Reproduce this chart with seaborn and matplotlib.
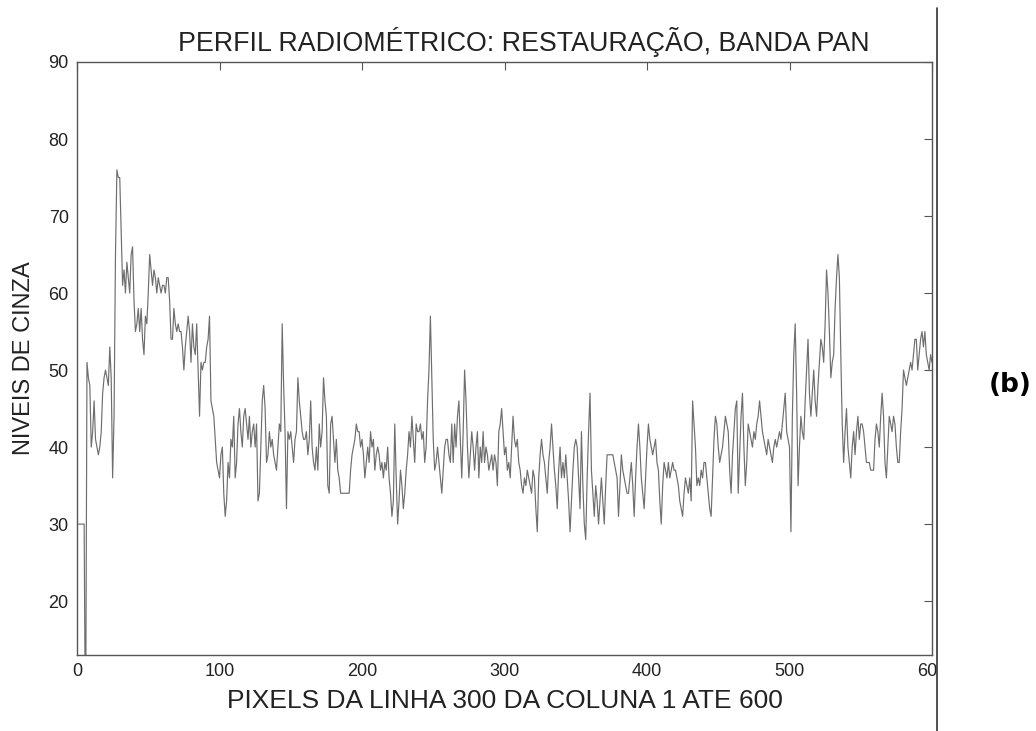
""" Perfil radiometrico - restauracao, banda PAN """

import numpy as np
import matplotlib
matplotlib.use("Agg")
import matplotlib.pyplot as plt
from matplotlib.lines import Line2D
from matplotlib.patches import Rectangle
import seaborn as sns

# Niveis de cinza, pixels 1..600 da linha 300
nivel = [
    30, 30, 30, 30, 30, 0, 51, 49, 48, 40,
    42, 46, 41, 40, 39, 40, 42, 47, 49, 50,
    49, 48, 53, 49, 36, 44, 65, 76, 75, 75,
    68, 61, 63, 60, 64, 62, 60, 65, 66, 59,
    55, 56, 58, 55, 58, 54, 52, 57, 56, 60,
    65, 63, 61, 63, 62, 60, 62, 61, 60, 61,
    61, 60, 62, 62, 59, 54, 54, 58, 56, 55,
    56, 55, 55, 53, 50, 53, 55, 57, 55, 51,
    56, 53, 52, 56, 50, 44, 51, 50, 51, 51,
    53, 54, 57, 46, 45, 44, 41, 38, 37, 36,
    39, 40, 34, 31, 33, 38, 36, 41, 40, 44,
    36, 38, 43, 45, 42, 40, 44, 45, 43, 41,
    44, 40, 42, 43, 40, 43, 33, 34, 40, 46,
    48, 45, 38, 39, 42, 40, 41, 39, 38, 37,
    40, 43, 42, 56, 48, 42, 32, 42, 41, 42,
    40, 38, 41, 42, 49, 46, 44, 42, 41, 41,
    42, 39, 41, 46, 40, 38, 37, 40, 37, 43,
    40, 42, 49, 46, 44, 35, 34, 43, 44, 41,
    38, 41, 37, 36, 34, 34, 34, 34, 34, 34,
    34, 37, 39, 40, 41, 43, 42, 42, 40, 41,
    39, 36, 38, 40, 38, 42, 40, 41, 37, 39,
    40, 39, 37, 38, 36, 38, 37, 40, 36, 34,
    31, 33, 43, 36, 30, 33, 37, 35, 32, 34,
    37, 39, 42, 40, 44, 41, 38, 43, 42, 42,
    43, 41, 42, 38, 40, 46, 50, 57, 49, 41,
    37, 38, 40, 38, 36, 34, 37, 40, 41, 41,
    39, 38, 43, 38, 43, 40, 44, 46, 41, 36,
    42, 50, 46, 40, 36, 39, 42, 40, 37, 40,
    42, 36, 40, 38, 42, 38, 40, 39, 37, 38,
    39, 37, 39, 38, 35, 42, 43, 45, 42, 39,
    40, 37, 38, 36, 40, 44, 41, 40, 41, 38,
    37, 35, 34, 36, 35, 37, 36, 35, 34, 37,
    36, 32, 29, 36, 39, 41, 39, 38, 36, 34,
    38, 40, 43, 40, 37, 35, 32, 37, 40, 36,
    38, 36, 39, 36, 33, 29, 33, 37, 40, 41,
    40, 36, 32, 42, 35, 30, 28, 36, 42, 47,
    37, 34, 31, 35, 33, 30, 33, 36, 33, 30,
    35, 39, 39, 39, 39, 39, 38, 37, 36, 31,
    35, 39, 37, 36, 35, 34, 34, 36, 38, 35,
    31, 36, 40, 43, 40, 36, 34, 32, 36, 40,
    43, 41, 40, 39, 40, 41, 38, 37, 33, 30,
    35, 38, 37, 36, 38, 36, 37, 38, 37, 37,
    36, 35, 33, 32, 31, 34, 36, 35, 34, 36,
    33, 46, 43, 40, 35, 36, 35, 37, 36, 38,
    38, 36, 34, 32, 31, 36, 41, 44, 43, 40,
    38, 39, 40, 42, 44, 43, 42, 37, 34, 39,
    42, 45, 46, 34, 39, 44, 47, 40, 35, 38,
    43, 42, 41, 40, 42, 41, 43, 44, 46, 44,
    42, 41, 40, 39, 41, 40, 39, 38, 40, 41,
    40, 41, 42, 41, 43, 45, 47, 42, 41, 40,
    29, 44, 52, 56, 47, 35, 40, 44, 42, 41,
    46, 50, 54, 47, 44, 47, 50, 46, 44, 48,
    51, 54, 53, 51, 56, 63, 60, 55, 49, 51,
    52, 58, 62, 65, 62, 52, 43, 38, 42, 45,
    40, 38, 36, 40, 42, 39, 42, 44, 41, 43,
    43, 42, 40, 38, 38, 38, 37, 37, 37, 41,
    43, 42, 40, 44, 47, 44, 38, 36, 40, 44,
    43, 42, 44, 43, 40, 38, 38, 42, 45, 50,
    49, 48, 49, 50, 51, 50, 52, 54, 54, 50,
    52, 54, 55, 53, 55, 52, 51, 50, 52, 51,
]
pixel = np.arange(1, len(nivel) + 1)

x_ticks = [0, 100, 200, 300, 400, 500, 600]
y_ticks = [20, 30, 40, 50, 60, 70, 80, 90]

sns.set_theme(style="white")
plt.rcParams["font.family"] = ["Liberation Sans", "DejaVu Sans"]

W, H = 1036, 731
fig = plt.figure(figsize=(W / 100, H / 100), dpi=100)
ax = fig.add_axes([77 / W, 1 - 655 / H, (932 - 77) / W, (655 - 62) / H])

sns.lineplot(x=pixel, y=nivel, ax=ax, color="#6e6e6e", linewidth=0.85, estimator=None)

ax.set_xlim(0, 600)
ax.set_ylim(13, 90)
ax.set_xticks(x_ticks)
ax.set_yticks(y_ticks)
ax.tick_params(direction="in", top=True, right=True, length=6, width=0.8,
               color="#555555", labelsize=13, labelcolor="#222222", pad=6)
for s in ax.spines.values():
    s.set_color("#555555")
    s.set_linewidth(1.0)

ax.set_xlabel("PIXELS DA LINHA 300 DA COLUNA 1 ATE 600", fontsize=19, color="#222222")
ax.set_ylabel("NIVEIS DE CINZA", fontsize=17, color="#222222")
ax.xaxis.set_label_coords(0.5, -0.057)
ax.yaxis.set_label_coords(-0.049, 0.5)

fig.text(524 / W, 1 - 42 / H, "PERFIL RADIOMÉTRICO: RESTAURAÇÃO, BANDA PAN",
         ha="center", va="center", fontsize=19.3, color="#222222")

# corte da imagem original a direita
fig.add_artist(Rectangle((938 / W, 0), 1, 1, transform=fig.transFigure,
                         facecolor="white", edgecolor="none", zorder=5))
fig.add_artist(Line2D([937 / W, 937 / W], [0, 1 - 8 / H], transform=fig.transFigure,
                      color="#333333", linewidth=1.2, zorder=6))
fig.text(1010 / W, 1 - 385 / H, "(b)", ha="center", va="center",
         fontsize=19, fontweight="bold", family="DejaVu Sans", color="black", zorder=7)

fig.savefig("out.png", dpi=100)
